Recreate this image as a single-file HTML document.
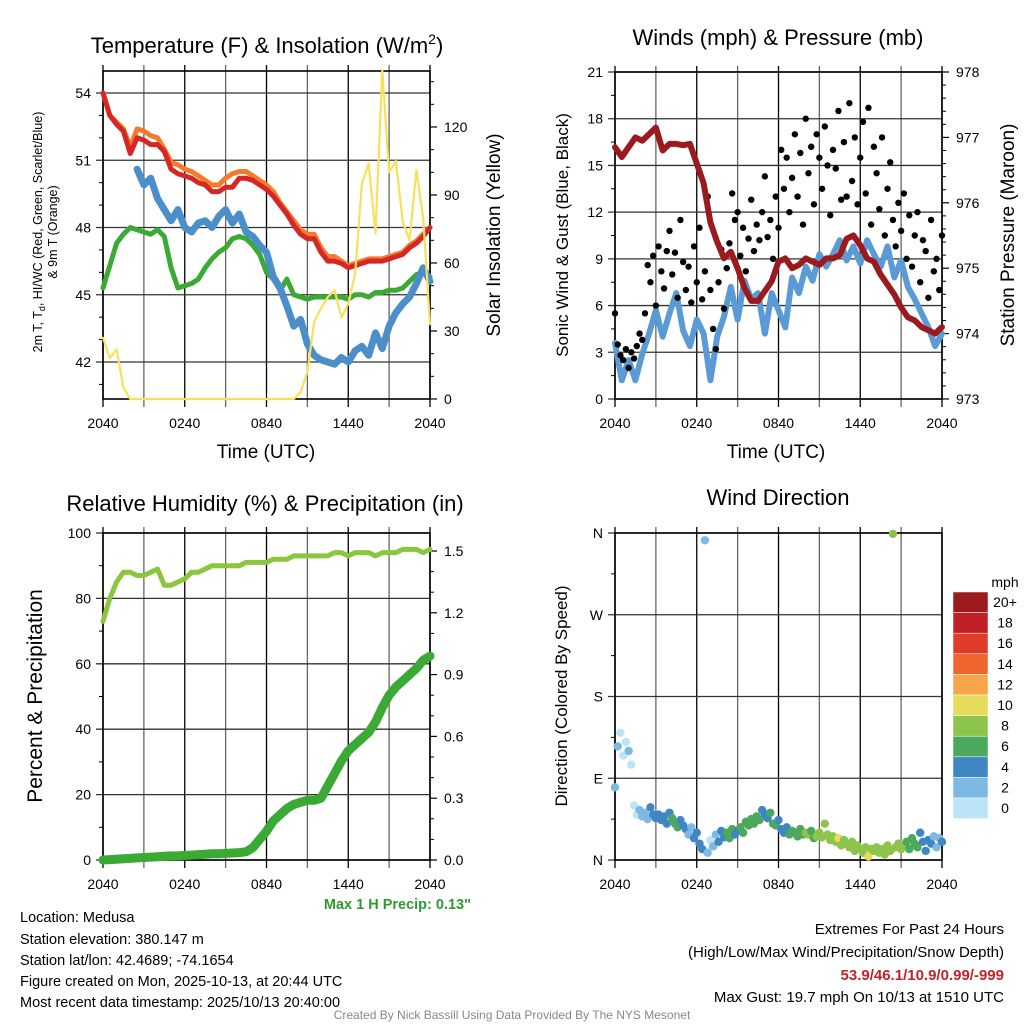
<!DOCTYPE html>
<html><head><meta charset="utf-8"><style>
html,body{margin:0;padding:0;background:#fff}
svg{display:block;font-family:"Liberation Sans",sans-serif}
</style></head><body>
<svg id="chart" width="1024" height="1024" viewBox="0 0 1024 1024" xmlns="http://www.w3.org/2000/svg">
<rect x="0" y="0" width="1024" height="1024" fill="#fff"/>
<text x="267" y="53" font-size="22" text-anchor="middle">Temperature (F) &amp; Insolation (W/m<tspan font-size="14" dy="-9">2</tspan><tspan dy="9">)</tspan></text>
<text x="778" y="45" font-size="22" text-anchor="middle">Winds (mph) &amp; Pressure (mb)</text>
<text x="265" y="511" font-size="22" text-anchor="middle">Relative Humidity (%) &amp; Precipitation (in)</text>
<text x="778" y="505" font-size="22" text-anchor="middle">Wind Direction</text>

<text transform="translate(42,232) rotate(-90)" font-size="12.5" text-anchor="middle">2m T, T<tspan font-size="9" dy="3">d</tspan><tspan dy="-3">, HI/WC (Red, Green, Scarlet/Blue)</tspan></text>
<text transform="translate(57,232) rotate(-90)" font-size="12.5" text-anchor="middle">&amp; 9m T (Orange)</text>
<text transform="translate(500,235) rotate(-90)" font-size="19" text-anchor="middle">Solar Insolation (Yellow)</text>
<text x="266" y="458" font-size="19" text-anchor="middle">Time (UTC)</text>
<text transform="translate(568,235) rotate(-90)" font-size="17" text-anchor="middle">Sonic Wind &amp; Gust (Blue, Black)</text>
<text transform="translate(1014,235) rotate(-90)" font-size="19" text-anchor="middle">Station Pressure (Maroon)</text>
<text x="776" y="458" font-size="19" text-anchor="middle">Time (UTC)</text>
<text transform="translate(42,696) rotate(-90)" font-size="21" text-anchor="middle">Percent &amp; Precipitation</text>
<text transform="translate(567,696) rotate(-90)" font-size="17" text-anchor="middle">Direction (Colored By Speed)</text>

<text x="471" y="909" font-size="14.5" font-weight="bold" fill="#2e9a2e" text-anchor="end">Max 1 H Precip: 0.13"</text>
<g font-size="14.5">
<text x="20" y="922">Location: Medusa</text>
<text x="20" y="944">Station elevation: 380.147 m</text>
<text x="20" y="965">Station lat/lon: 42.4689; -74.1654</text>
<text x="20" y="986">Figure created on Mon, 2025-10-13, at 20:44 UTC</text>
<text x="20" y="1007">Most recent data timestamp: 2025/10/13 20:40:00</text>
</g>
<g font-size="15" text-anchor="end">
<text x="1004" y="934">Extremes For Past 24 Hours</text>
<text x="1004" y="957">(High/Low/Max Wind/Precipitation/Snow Depth)</text>
<text x="1004" y="980" fill="#c0232b" font-weight="bold">53.9/46.1/10.9/0.99/-999</text>
<text x="1004" y="1002">Max Gust: 19.7 mph On 10/13 at 1510 UTC</text>
</g>
<text x="512" y="1019" font-size="12" fill="#888" text-anchor="middle">Created By Nick Bassill Using Data Provided By The NYS Mesonet</text>
</svg>
<script>
// ---- data (step 0.5 h from 2040 UTC) ----
const timeLabels = ["2040","0240","0840","1440","2040"];
const tempRed = [54.0,53.0,52.6,52.3,51.3,52.0,51.9,51.7,51.7,51.4,50.6,50.4,50.3,50.2,50.0,49.9,49.6,49.6,49.8,49.8,50.2,50.2,50.1,49.9,49.7,49.4,49.0,48.6,48.1,47.7,47.5,47.5,46.9,46.5,46.5,46.4,46.2,46.3,46.4,46.5,46.5,46.5,46.6,46.7,46.8,47.1,47.3,47.6,48.0];
const tempOrange = [54.0,53.0,52.7,52.4,51.6,52.4,52.3,52.1,52.0,51.5,50.9,50.8,50.6,50.5,50.3,50.1,49.9,49.9,50.2,50.4,50.5,50.5,50.3,50.1,49.9,49.6,49.1,48.7,48.3,47.9,47.7,47.7,47.1,46.7,46.7,46.5,46.3,46.4,46.5,46.6,46.6,46.6,46.7,46.8,46.9,47.2,47.4,47.7,48.0];
const dewGreen = [45.3,46.3,47.3,47.7,48.0,47.9,47.8,47.7,47.9,47.6,46.2,45.3,45.4,45.5,45.7,46.2,46.6,46.9,47.1,47.5,47.6,47.5,47.2,46.8,46.0,45.7,45.2,45.7,45.0,44.9,44.8,44.9,44.9,44.9,44.9,44.9,44.8,45.0,45.0,44.9,45.1,45.1,45.2,45.2,45.3,45.6,45.9,46.0,45.8];
const chillBlue = [null,null,null,null,null,50.6,49.9,50.2,49.3,48.8,48.3,48.8,48.0,47.8,48.2,48.3,48.0,48.5,48.8,48.2,48.6,47.8,47.6,47.2,46.9,45.8,45.3,44.5,43.6,43.9,42.8,42.3,42.1,42.0,41.9,42.2,42.0,42.5,42.7,42.3,43.3,42.6,43.6,44.2,44.6,44.9,45.5,46.2,45.6];
const solar = [27,18,22,5,0,0,0,0,0,0,0,0,0,0,0,0,0,0,0,0,0,0,0,0,0,0,0,0,0,3,12,34,40,45,48,36,42,55,95,104,73,145,100,105,78,70,101,80,33];
const pressure = [976.85,976.7,976.85,977.0,976.95,977.05,977.15,976.8,976.9,976.9,976.88,976.9,976.6,976.3,975.7,975.4,975.15,975.25,975.0,974.7,974.5,974.5,974.65,974.8,975.1,975.15,975.0,975.05,975.15,975.1,975.05,975.15,975.15,975.2,975.45,975.5,975.35,975.15,975.1,974.9,974.75,974.6,974.4,974.25,974.2,974.1,974.05,974.0,974.1];
const windSpeed = [3.6,1.2,2.5,1.2,2.9,4.2,5.7,4.0,5.5,6.8,4.4,3.4,5.1,4.2,1.2,4.0,5.3,7.2,5.1,7.6,6.4,6.8,4.2,6.8,5.7,4.6,7.8,6.8,8.5,7.6,9.3,8.5,9.3,10.2,8.9,9.8,8.7,10.2,9.3,8.5,9.8,7.8,8.9,7.2,6.4,5.5,4.6,3.4,4.2];
// gusts step 0.2 h
const gusts = [5.5,3.5,2.8,2.5,3.2,2.0, 3.0,2.6,3.4,4.2,3.8, 5.5,8.6,7.5,9.2,6.0, 9.8,8.2,7.1,9.5,10.8, 8.0,9.4,6.5,11.5,8.8, 7.0,8.5,6.2,9.8,7.5, 11.0,6.4,8.2,13.0,7.0, 4.5,3.2,7.5,9.6,5.8, 8.4,10.0,13.2,11.5,12.0, 9.2,11.0,8.2,10.3,12.8, 9.5,11.2,10.2,12.0,14.3, 10.4,11.5,9.0,13.0,11.0, 16.0,13.5,15.5,12.0,14.2, 17.0,13.0,15.8,11.2,18.0, 14.5,16.2,12.5,17.0,15.5, 13.5,17.5,15.0,11.8,16.0, 14.8,18.5,12.8,16.5,13.0, 19.0,14.0,16.8,12.5,15.5, 17.8,13.2,18.7,11.2,16.2, 14.5,12.2,16.8,10.5,13.5, 15.2,11.5,9.8,12.6,10.8, 13.2,9.0,11.8,8.5,10.5, 12.0,7.5,10.2,9.5,6.5, 11.5,8.2,9.0,7.0,10.5];
const relHum = [73,80,85,88,88,87,87,88,89,84,84,85,86,88,88,89,90,90,90,90,90,91,91,91,91,92,92,92,93,93,93,93,93,93,94,94,93,94,94,94,93,94,94,94,95,95,95,94,95];
const precip = [0,0.002,0.004,0.006,0.008,0.01,0.012,0.014,0.016,0.018,0.02,0.02,0.022,0.024,0.026,0.028,0.03,0.03,0.032,0.034,0.036,0.04,0.06,0.1,0.14,0.19,0.22,0.25,0.27,0.28,0.29,0.29,0.3,0.36,0.42,0.48,0.53,0.56,0.59,0.62,0.67,0.74,0.8,0.84,0.87,0.9,0.93,0.97,0.99];
// direction step 0.2 h
const windDir = [80,125,140,115,130,120, 105,60,50,55,48, 52,45,58,50,46, 50,44,48,40,52, 46,40,36,44,38, 34,28,36,24,30, 18,12,352,8,22, 15,28,20,32,25, 30,24,34,28,32, 36,30,42,38,45, 40,48,44,55,50, 46,52,40,38,44, 34,30,36,28,32, 30,26,34,28,30, 28,32,24,26,30, 25,40,28,22,26, 20,24,16,22,18, 14,20,10,16,12, 8,14,4,12,10, 14,8,12,6,16, 10,359,14,18,12, 16,20,12,24,18, 14,30,20,10,22, 18,26,14,24,20];
const speedBins = ["20+","18","16","14","12","10","8","6","4","2","0"];
const binColors = ["#9b1b1e","#c01f26","#e03b2b","#f0652d","#f7a54a","#e6dc5c","#8cc44c","#4ba85c","#3f86c4","#7db9e3","#bde3f7"];

const NS="http://www.w3.org/2000/svg";
const svg=document.getElementById('chart');
function mk(tag,attrs,parent){const e=document.createElementNS(NS,tag);for(const k in attrs)e.setAttribute(k,attrs[k]);(parent||svg).appendChild(e);return e;}

function makeX(x0,x1){return h=>x0+h/24*(x1-x0);}
function linY(v0,y0,v1,y1){return v=>y0+(v-v0)*(y1-y0)/(v1-v0);}

function frame(name,x0,y0,x1,y1,yticks,yFn,yLabels,rticks,rFn,rLabels,minL,minR){
  const g=mk('g',{});
  
  
  const X=makeX(x0,x1);
  for(let h=0;h<=24;h+=3){
    const l=mk('line',{x1:X(h),x2:X(h),y1:y0-6,y2:y1+8,stroke:(h%6==0)?'#000':'#666','stroke-width':1.3},g);
    
    
  }
  yticks.forEach((v,i)=>{
    const y=yFn(v);
    const l=mk('line',{x1:x0-7,x2:x1,y1:y,y2:y,stroke:'#333','stroke-width':1.3},g);
    
    
    const t=mk('text',{x:x0-12,y:y+5,'font-size':14,'text-anchor':'end'},g);
    t.textContent=yLabels[i];
    
    
  });
  (minL||[]).forEach(v=>{const y=yFn(v);mk('line',{x1:x0-4,x2:x0,y1:y,y2:y,stroke:'#000'},g);});
  if(rticks){rticks.forEach((v,i)=>{
    const y=rFn(v);
    mk('line',{x1:x1,x2:x1+7,y1:y,y2:y,stroke:'#000','stroke-width':1.2},g);
    const t=mk('text',{x:x1+14,y:y+5,'font-size':14},g);
    t.textContent=rLabels[i];
    
    
  });
  (minR||[]).forEach(v=>{const y=rFn(v);mk('line',{x1:x1,x2:x1+4,y1:y,y2:y,stroke:'#000'},g);});}
  timeLabels.forEach((s,i)=>{
    const t=mk('text',{x:X(i*6),y:y1+29,'font-size':14,'text-anchor':'middle'},g);
    t.textContent=s;
    
    
  });
  mk('rect',{x:x0,y:y0,width:x1-x0,height:y1-y0,fill:'none',stroke:'#000','stroke-width':1.6},g);
  return X;
}
function path(X,Y,vals,step,attrs,name){
  let d='',pen=false;
  vals.forEach((v,i)=>{if(v===null){pen=false;return;}d+=(pen?'L':'M')+X(i*step).toFixed(1)+','+Y(v).toFixed(1);pen=true;});
  const p=mk('path',Object.assign({d:d,fill:'none','stroke-linejoin':'round','stroke-linecap':'round'},attrs));
  
  
  return p;
}

// ---- Panel 1: temperature ----
const tY=linY(54,93,42,362), sY=linY(0,399,120,127);
const X1=frame('temperature',103,71,430,399,[54,51,48,45,42],tY,['54','51','48','45','42'],[0,30,60,90,120],sY,['0','30','60','90','120'],[53,52,50,49,47,46,44,43,41],[10,20,40,50,70,80,100,110,130,140]);
path(X1,tY,tempOrange,0.5,{stroke:'#f47b2a','stroke-width':5},'temp-9m-line');
path(X1,tY,tempRed,0.5,{stroke:'#d62728','stroke-width':5},'temp-2m-line');
path(X1,tY,dewGreen,0.5,{stroke:'#3aaa35','stroke-width':5},'dewpoint-line');
path(X1,tY,chillBlue,0.5,{stroke:'#4a8fc9','stroke-width':7},'windchill-line');
path(X1,sY,solar,0.5,{stroke:'#f9e05a','stroke-width':2.2},'solar-line');

// ---- Panel 2: winds & pressure ----
const wY=linY(0,399,21,72), pY=linY(973,399,978,72);
const X2=frame('winds',615,72,942,399,[0,3,6,9,12,15,18,21],wY,['0','3','6','9','12','15','18','21'],[973,974,975,976,977,978],pY,['973','974','975','976','977','978'],[1.5,4.5,7.5,10.5,13.5,16.5,19.5],[973.2,973.4,973.6,973.8,974.2,974.4,974.6,974.8,975.2,975.4,975.6,975.8,976.2,976.4,976.6,976.8,977.2,977.4,977.6,977.8]);
path(X2,wY,windSpeed,0.5,{stroke:'#5b9bd5','stroke-width':6},'sonic-wind-line');
gusts.forEach((g,i)=>{
  const c=mk('circle',{cx:X2(i*0.2),cy:wY(g),r:3.2,fill:'#000'});
  
  
});
path(X2,pY,pressure,0.5,{stroke:'#9b1a1e','stroke-width':6},'pressure-line');

// ---- Panel 3: RH & precip ----
const rY=linY(0,860,100,533), qY=linY(0,860,1.5,551);
const X3=frame('humidity',103,533,430,860,[0,20,40,60,80,100],rY,['0','20','40','60','80','100'],[0,0.3,0.6,0.9,1.2,1.5],qY,['0.0','0.3','0.6','0.9','1.2','1.5'],[10,30,50,70,90],[0.1,0.2,0.4,0.5,0.7,0.8,1.0,1.1,1.3,1.4]);
path(X3,rY,relHum,0.5,{stroke:'#8cc63f','stroke-width':5},'humidity-line');
path(X3,qY,precip,0.5,{stroke:'#3aaa35','stroke-width':9},'precip-line');

// ---- Panel 4: wind direction ----
const dY=linY(0,860,360,533);
const X4=frame('direction',615,533,942,860,[0,90,180,270,360],dY,['N','E','S','W','N'],null,null,null,[45,135,225,315]);
function speedAt(h){const i=h/0.5,a=Math.floor(i),b=Math.min(a+1,windSpeed.length-1),f=i-a;return windSpeed[a]*(1-f)+windSpeed[b]*f;}
windDir.forEach((d,i)=>{
  const h=i*0.2;const s=speedAt(h);
  let bin=Math.min(10,Math.floor(s/2));const col=binColors[10-bin];
  const c=mk('circle',{cx:X4(h),cy:dY(d),r:4.2,fill:col});
  
  
});
// colorbar
const cb=mk('g',{});


const mt=mk('text',{x:1005,y:587,'font-size':14,'text-anchor':'middle'},cb);
mt.textContent='mph';
speedBins.forEach((lab,i)=>{
  const y=592+i*20.6;
  const r=mk('rect',{x:953,y:y,width:35,height:20.6,fill:binColors[i],stroke:'#fff','stroke-width':0.5},cb);
  
  
  const t=mk('text',{x:1005,y:y+15,'font-size':14,'text-anchor':'middle'},cb);
  t.textContent=lab;
  
  
});
</script>
</body></html>
